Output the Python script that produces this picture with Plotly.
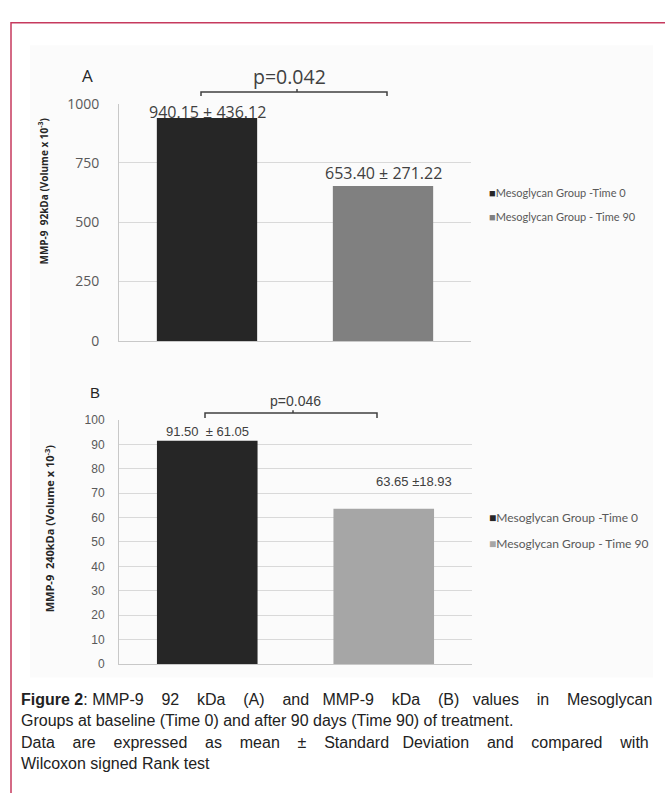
import plotly.graph_objects as go

W, H = 665, 793

# ---------------- data ----------------
groups = ["Mesoglycan Group -Time 0", "Mesoglycan Group - Time 90"]
cats = ["Time 0", "Time 90"]
a_values = [940.15, 653.40]
a_sd = [436.12, 271.22]
b_values = [91.50, 63.65]
b_sd = [61.05, 18.93]
a_labels = ["940.15 ± 436.12", "653.40 ± 271.22"]
b_labels = ["91.50  ± 61.05", "63.65 ±18.93"]
a_ticks = [0, 250, 500, 750, 1000]
b_ticks = [0, 10, 20, 30, 40, 50, 60, 70, 80, 90, 100]
a_colors = ["#262626", "#808080"]
b_colors = ["#262626", "#a6a6a6"]


def px(x):
    return x / W


def py(y):
    return 1 - y / H


fig = go.Figure()

for i in range(2):
    fig.add_trace(go.Bar(x=[cats[i]], y=[a_values[i]], name=groups[i],
                         marker=dict(color=a_colors[i], line=dict(width=0)),
                         width=0.57, xaxis="x", yaxis="y", showlegend=False,
                         hoverinfo="skip"))
    fig.add_trace(go.Bar(x=[cats[i]], y=[b_values[i]], name=groups[i],
                         marker=dict(color=b_colors[i], line=dict(width=0)),
                         width=0.57, xaxis="x2", yaxis="y2", showlegend=False,
                         hoverinfo="skip"))

grid = "#d9d9d9"
axline = "#c8c8c8"

fig.update_layout(
    width=W, height=H,
    margin=dict(l=0, r=0, t=0, b=0),
    paper_bgcolor="white", plot_bgcolor="white",
    barmode="overlay",
    showlegend=False,
    xaxis=dict(domain=[px(119), px(471)], anchor="y", showticklabels=False,
               showgrid=False, showline=True, linecolor=axline, linewidth=1,
               ticks="", categoryorder="array", categoryarray=cats, fixedrange=True),
    yaxis=dict(domain=[py(339), py(96)], anchor="x", range=[0, 1000],
               tickvals=a_ticks, showgrid=True, gridcolor=grid, gridwidth=1,
               showline=True, linecolor=axline, linewidth=1, zeroline=False,
               ticks="", ticklabelstandoff=16,
               tickfont=dict(family="Open Sans", size=14, color="#595959")),
    xaxis2=dict(domain=[px(119), px(472)], anchor="y2", showticklabels=False,
                showgrid=False, showline=True, linecolor=axline, linewidth=1,
                ticks="", categoryorder="array", categoryarray=cats, fixedrange=True),
    yaxis2=dict(domain=[py(670), py(420)], anchor="x2", range=[0, 100],
                tickvals=b_ticks, showgrid=True, gridcolor=grid, gridwidth=1,
                showline=True, linecolor=axline, linewidth=1, zeroline=False,
                ticks="", ticklabelstandoff=11,
                tickfont=dict(family="Liberation Sans", size=12, color="#595959")),
)

ann = []

# value labels (centre offsets above bar tops, in px)
a_yshift = [6, 13]
for i in range(2):
    ann.append(dict(x=cats[i], y=a_values[i], xref="x", yref="y", text=a_labels[i],
                    showarrow=False, yanchor="middle", yshift=a_yshift[i],
                    font=dict(family="Open Sans", size=16, color="#404040")))
b_xshift = [0, 30]
b_yshift = [9, 27]
for i in range(2):
    ann.append(dict(x=cats[i], y=b_values[i], xref="x2", yref="y2", text=b_labels[i],
                    showarrow=False, yanchor="middle", yshift=b_yshift[i], xshift=b_xshift[i],
                    font=dict(family="Liberation Sans", size=13, color="#404040")))

# panel letters and p values
ann.append(dict(x=px(87), y=py(67), xref="paper", yref="paper", text="A", showarrow=False,
                xanchor="center", yanchor="middle",
                font=dict(family="Open Sans", size=17, color="#262626")))
ann.append(dict(x=px(289), y=py(68), xref="paper", yref="paper", text="p=0.042", showarrow=False,
                xanchor="center", yanchor="middle",
                font=dict(family="Open Sans", size=19.5, color="#404040")))
ann.append(dict(x=px(95), y=py(392), xref="paper", yref="paper", text="B", showarrow=False,
                xanchor="center", yanchor="middle",
                font=dict(family="Liberation Sans", size=15, color="#262626")))
ann.append(dict(x=px(295), y=py(401), xref="paper", yref="paper", text="p=0.046", showarrow=False,
                xanchor="center", yanchor="middle",
                font=dict(family="Liberation Sans", size=14, color="#404040")))

# y-axis titles
ann.append(dict(x=px(43), y=py(186), xref="paper", yref="paper",
                text="<b>MMP-9  92kDa (Volume x 10<sup>-3</sup>)</b>", showarrow=False,
                textangle=-90, xanchor="center", yanchor="middle",
                font=dict(family="Open Sans", size=10, color="#262626")))
ann.append(dict(x=px(50), y=py(531), xref="paper", yref="paper",
                text="<b>MMP-9  240kDa (Volume x 10<sup>-3</sup>)</b>", showarrow=False,
                textangle=-90, xanchor="center", yanchor="middle",
                font=dict(family="Open Sans", size=11, color="#262626")))

# legends (as text)
leg_rows = [(187, 212, 11), (520, 547, 12)]
for (y0, y1, fs), cols in zip(leg_rows, [a_colors, b_colors]):
    for yy, g, c in zip((y0, y1), groups, cols):
        ann.append(dict(x=px(487), y=py(yy), xref="paper", yref="paper",
                        text=f'<span style="color:{c}">■</span>{g}', showarrow=False,
                        xanchor="left", yanchor="middle",
                        font=dict(family="Lato", size=fs, color="#595959")))

# caption (justified lines padded with non-breaking spaces)
NB = "\u00a0"
line1_words = ["<b>Figure 2</b>: MMP-9", "92", "kDa", "(A)", "and", "MMP-9", "kDa", "(B)",
               "values", "in", "Mesoglycan"]
line1_pad = [3, 3, 3, 3, 2, 3, 3, 2, 3, 3]
line3_words = ["Data", "are", "expressed", "as", "mean", "±", "Standard", "Deviation", "and",
               "compared", "with"]
line3_pad = [3, 3, 3, 3, 3, 3, 2, 3, 3, 3]


def justify(words, pads):
    out = words[0]
    for w, p in zip(words[1:], pads):
        out += " " + NB * p + w
    return out


captions = [
    (justify(line1_words, line1_pad), 706),
    ("Groups at baseline (Time 0) and after 90 days (Time 90) of treatment.", 728),
    (justify(line3_words, line3_pad), 750),
    ("Wilcoxon signed Rank test", 772),
]
for txt, yy in captions:
    ann.append(dict(x=px(19), y=py(yy), xref="paper", yref="paper", text=txt,
                    showarrow=False, xanchor="left", yanchor="middle",
                    font=dict(family="Liberation Sans", size=16, color="#222222")))

fig.update_layout(annotations=ann)

shapes = []
# faint background of chart images
shapes.append(dict(type="rect", xref="paper", yref="paper", x0=px(30), x1=px(653),
                   y0=py(36), y1=py(684), line=dict(width=0), fillcolor="#fbfbfb", layer="below"))
# outer border
shapes.append(dict(type="rect", xref="paper", yref="paper", x0=px(11), x1=px(720),
                   y0=py(13), y1=py(860), line=dict(color="#c63a5e", width=1.5)))


def bracket(xl, xr, yb, ydown, mid, yup):
    return [
        dict(type="path", xref="paper", yref="paper",
             path=f"M {px(xl)},{py(ydown)} L {px(xl)},{py(yb)} L {px(xr)},{py(yb)} L {px(xr)},{py(ydown)}",
             line=dict(color="#404040", width=1.5)),
        dict(type="line", xref="paper", yref="paper", x0=px(mid), x1=px(mid),
             y0=py(yb), y1=py(yup), line=dict(color="#404040", width=1.5)),
    ]


shapes += bracket(201, 387, 84, 88, 297, 81)
shapes += bracket(205, 377, 413, 418, 293, 410)

fig.update_layout(shapes=shapes)

fig.write_html("out.html")
